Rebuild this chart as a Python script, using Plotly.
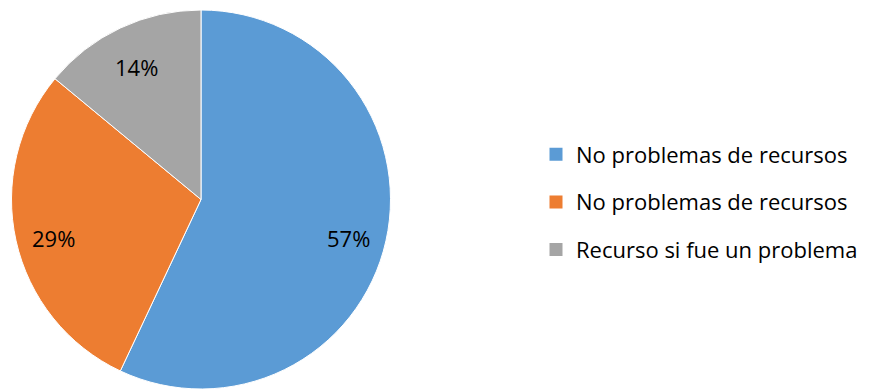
import math
import plotly.graph_objects as go

labels = ["No problemas de recursos", "No problemas de recursos ", "Recurso si fue un problema"]
values = [57, 29, 14]
colors = ["#5B9BD5", "#ED7D31", "#A5A5A5"]

W, H = 874, 389
FONT = "Open Sans"
dom_x = [10 / W, 392 / W]
dom_y = [0, (H - 10) / H]

fig = go.Figure()
fig.add_trace(go.Pie(
    labels=labels, values=values, sort=False, direction="clockwise", rotation=0,
    marker=dict(colors=colors, line=dict(color="white", width=1)),
    textinfo="none", hoverinfo="label+percent",
    domain=dict(x=dom_x, y=dom_y),
    showlegend=False,
))

# legend entries (one group each so spacing can be controlled)
for i, (lab, col) in enumerate(zip(labels, colors)):
    fig.add_trace(go.Scatter(
        x=[None], y=[None], mode="markers", name=lab.strip(),
        marker=dict(symbol="square", size=13, color=col),
        legendgroup=f"g{i}", showlegend=True, hoverinfo="skip",
    ))

# percentage labels placed near the outer part of each slice
cx_px = (dom_x[0] + dom_x[1]) / 2 * W
cy_px = H - (dom_y[0] + dom_y[1]) / 2 * H
R = min((dom_x[1] - dom_x[0]) * W, (dom_y[1] - dom_y[0]) * H) / 2
total = sum(values)
cum = 0
for v in values:
    mid = (cum + v / 2) / total * 2 * math.pi
    cum += v
    px = cx_px + 0.8 * R * math.sin(mid)
    py = cy_px - 0.8 * R * math.cos(mid) + 5
    fig.add_annotation(
        x=px / W, y=1 - py / H, xref="paper", yref="paper",
        text=f"{round(v / total * 100)}%", showarrow=False,
        font=dict(family=FONT, size=22, color="#000000"),
        xanchor="center", yanchor="middle",
    )

fig.update_layout(
    width=W, height=H, margin=dict(l=0, r=0, t=0, b=0),
    paper_bgcolor="white", plot_bgcolor="white",
    xaxis=dict(visible=False), yaxis=dict(visible=False),
    font=dict(family=FONT, size=22, color="#000000"),
    legend=dict(x=536 / W, y=1 - 202 / H, xanchor="left", yanchor="middle",
                font=dict(family=FONT, size=22, color="#000000"),
                itemwidth=30, tracegroupgap=16, bgcolor="rgba(0,0,0,0)"),
)
fig.write_html("out.html")
